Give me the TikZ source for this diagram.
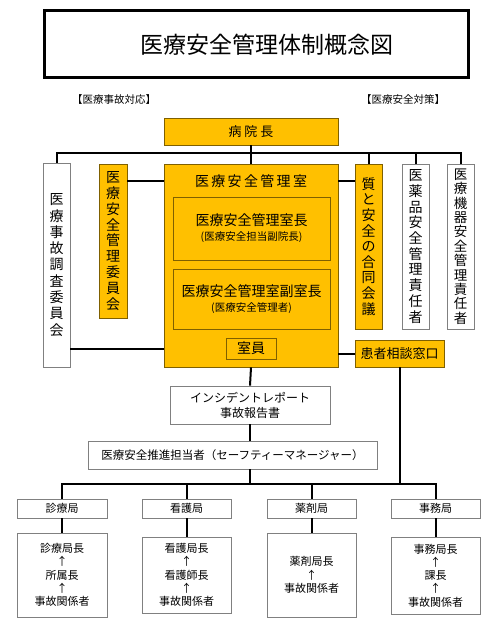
\documentclass[tikz,border=0pt]{standalone}
\usepackage{fontspec}
\setmainfont{Noto Sans CJK JP}
\usepackage{tikz}
\usepackage{xcolor}

\definecolor{kiiro}{HTML}{FFC000}
\definecolor{waku}{HTML}{808080}
\definecolor{wakuorg}{HTML}{7F6000}

\tikzset{
  box/.style={draw=waku, line width=0.8pt, fill=white, inner sep=0pt, align=center},
  orgbox/.style={box, draw=wakuorg, fill=kiiro},
  conn/.style={line width=2pt},
}

\begin{document}
\begin{tikzpicture}[x=1pt, y=-1pt]
        \useasboundingbox (0,0) rectangle (502,626);

        % Title
        \node[draw, line width=3pt, minimum width=424pt, minimum height=67pt] (title) at (256.5,44) {};
        \node[font=\fontsize{23}{27}\selectfont] (titletext) at (267,45) {医療安全管理体制概念図};

        \node[font=\fontsize{10.5}{12}\selectfont] (jikohdr) at (114,100) {【医療事故対応】};
        \node[font=\fontsize{10.5}{12}\selectfont] (anzenhdr) at (403,100) {【医療安全対策】};

        % Top level
        \node[orgbox, minimum width=174pt, minimum height=27pt, font=\fontsize{13}{15}\selectfont] (incho) at (251,131.5) {病\hspace{3pt}院\hspace{3pt}長};
        \coordinate (topbus) at (0,153);

        % Vertical boxes
        \node[box, minimum width=27pt, minimum height=204pt, font=\fontsize{14}{16.3}\selectfont] (chosa) at (56.5,265)
            {医\\療\\事\\故\\調\\査\\委\\員\\会};
        \node[orgbox, minimum width=28pt, minimum height=154pt, font=\fontsize{14}{15.8}\selectfont] (iinkai) at (113,241)
            {医\\療\\安\\全\\管\\理\\委\\員\\会};
        \node[orgbox, minimum width=27pt, minimum height=165pt, font=\fontsize{14}{15.6}\selectfont] (shitsugi) at (368.5,246.5)
            {質\\と\\安\\全\\の\\合\\同\\会\\議};
        \node[box, minimum width=27pt, minimum height=165pt, font=\fontsize{14}{15.7}\selectfont] (iyaku) at (415.5,246.5)
            {医\\薬\\品\\安\\全\\管\\理\\責\\任\\者};
        \node[box, minimum width=27pt, minimum height=165pt, font=\fontsize{13.5}{14.4}\selectfont] (kiki) at (460.5,246.5)
            {医\\療\\機\\器\\安\\全\\管\\理\\責\\任\\者};

        % Safety management office
        \node[orgbox, minimum width=174pt, minimum height=203pt] (shitsu) at (251,265.5) {};
        \node[font=\fontsize{14}{16}\selectfont] (shitsutitle) at (251,181) {医\,療\,安\,全\,管\,理\,室};
        \node[orgbox, minimum width=157pt, minimum height=63pt] (shitsucho) at (251.5,228.5)
            {{\fontsize{14}{16}\selectfont 医療安全管理室長}\\[3pt]{\fontsize{10.5}{12}\selectfont (医療安全担当副院長)}};
        \node[orgbox, minimum width=157pt, minimum height=60pt] (fukucho) at (251.5,299)
            {{\fontsize{14}{16}\selectfont 医療安全管理室副室長}\\[3pt]{\fontsize{10.5}{12}\selectfont (医療安全管理者)}};
        \node[orgbox, minimum width=50pt, minimum height=21pt, font=\fontsize{14}{16}\selectfont] (shitsuin) at (251,348.5) {室員};

        \node[orgbox, minimum width=89pt, minimum height=27pt, font=\fontsize{13}{15}\selectfont] (madoguchi) at (399.5,353.5) {患者相談窓口};

        % Reports
        \node[box, minimum width=160pt, minimum height=38pt, font=\fontsize{12}{15}\selectfont] (report) at (250,405)
            {インシデントレポート\\事故報告書};
        \node[box, minimum width=289pt, minimum height=28pt, font=\fontsize{11.5}{14}\selectfont] (suishin) at (232.5,455)
            {医療安全推進担当者（セーフティーマネージャー）};
        \coordinate (botbus) at (0,484);

        % Bureaus
        \node[box, minimum width=90pt, minimum height=19pt, font=\fontsize{11}{13}\selectfont] (shinryo) at (62,508.5) {診療局};
        \node[box, minimum width=89pt, minimum height=19pt, font=\fontsize{11}{13}\selectfont] (kango) at (186.5,508.5) {看護局};
        \node[box, minimum width=89pt, minimum height=19pt, font=\fontsize{11}{13}\selectfont] (yakuzai) at (311.5,508.5) {薬剤局};
        \node[box, minimum width=89pt, minimum height=19pt, font=\fontsize{11}{13}\selectfont] (jimu) at (435.5,508.5) {事務局};

        \node[box, minimum width=90pt, minimum height=84pt, font=\fontsize{11}{13.3}\selectfont] (shinryosub) at (62,575)
            {診療局長\\↑\\所属長\\↑\\事故関係者};
        \node[box, minimum width=89pt, minimum height=76pt, font=\fontsize{11}{13.3}\selectfont] (kangosub) at (186.5,575)
            {看護局長\\↑\\看護師長\\↑\\事故関係者};
        \node[box, minimum width=89pt, minimum height=84pt, font=\fontsize{11}{13.5}\selectfont] (yakuzaisub) at (311.5,575)
            {薬剤局長\\↑\\事故関係者};
        \node[box, minimum width=89pt, minimum height=77pt, font=\fontsize{11}{13.3}\selectfont] (jimusub) at (435.5,575.5)
            {事務局長\\↑\\課長\\↑\\事故関係者};

        % Connectors
        \draw[conn] (incho.south) -- (shitsu.north);
        \draw[conn] (chosa.north) -- (chosa.north |- topbus) -- (kiki.north |- topbus) -- (kiki.north);
        \draw[conn] (shitsugi.north) -- (shitsugi.north |- topbus);
        \draw[conn] (iyaku.north) -- (iyaku.north |- topbus);
        \draw[conn] (iinkai.east |- shitsutitle) -- (shitsu.west |- shitsutitle);
        \draw[conn] (shitsu.east |- shitsutitle) -- (shitsugi.west |- shitsutitle);
        \draw[conn] (chosa.east |- shitsuin) -- (shitsu.west |- shitsuin);
        \draw[conn] (shitsu.east |- madoguchi) -- (madoguchi.west);

        \draw[conn] (shitsu.south) -- (report.north);
        \draw[conn] (report.south) -- (report.south |- suishin.north);
        \draw[conn] (report.south |- suishin.south) -- (report.south |- botbus);
        \draw[conn] (madoguchi.south) -- (madoguchi.south |- botbus);
        \draw[conn] (shinryo.north) -- (shinryo.north |- botbus) -- (jimu.north |- botbus) -- (jimu.north);
        \draw[conn] (kango.north) -- (kango.north |- botbus);
        \draw[conn] (yakuzai.north) -- (yakuzai.north |- botbus);

        \draw[conn] (shinryo.south) -- (shinryosub.north);
        \draw[conn] (kango.south) -- (kangosub.north);
        \draw[conn] (yakuzai.south) -- (yakuzaisub.north);
        \draw[conn] (jimu.south) -- (jimusub.north);

    \end{tikzpicture}
\end{document}
